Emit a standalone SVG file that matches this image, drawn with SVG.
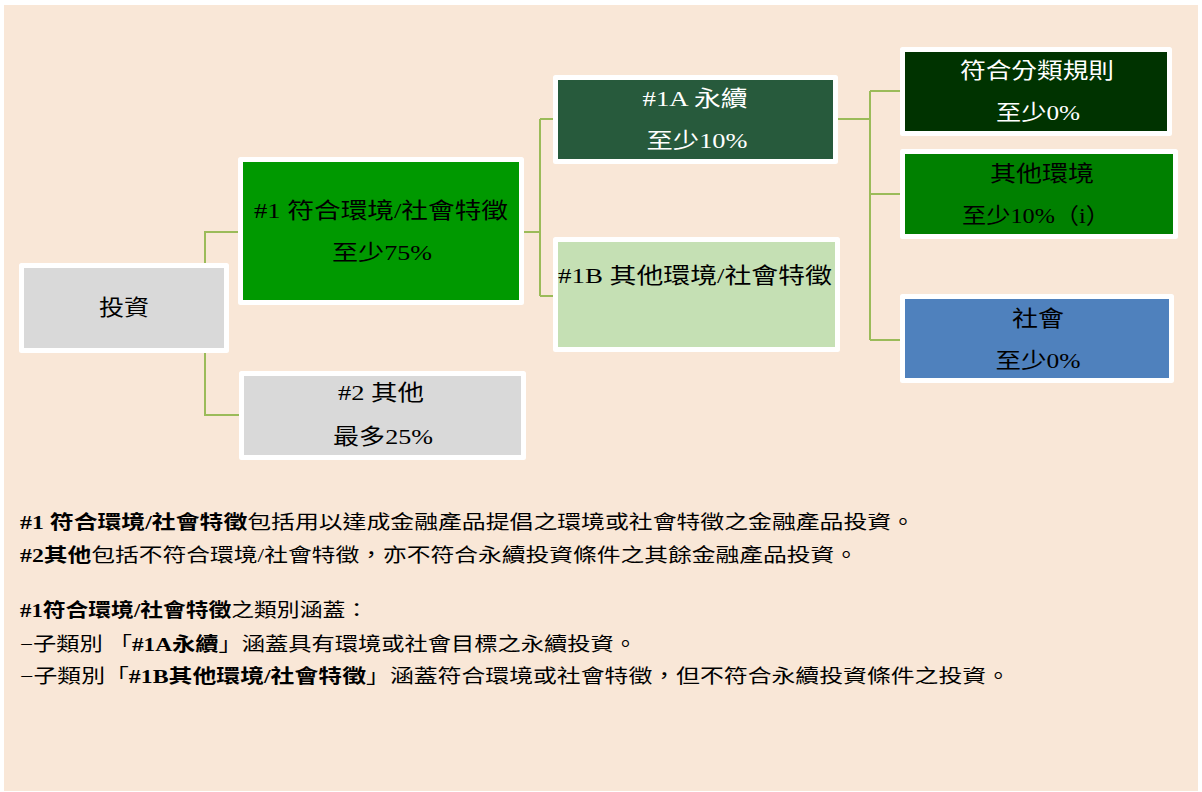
<svg xmlns="http://www.w3.org/2000/svg" width="1202" height="792" viewBox="0 0 1202 792">
<style>
.box{stroke:#FFFFFF;stroke-width:5;stroke-linejoin:round}
.t{font-family:"Liberation Serif","Noto Sans CJK TC",serif;font-size:22px;text-anchor:middle;fill:#000}
.w{fill:#FFFFFF}
.c{fill:none;stroke:#9BBB59;stroke-width:2}
.n{font-family:"Liberation Serif","Noto Sans CJK TC",serif;font-size:19px;fill:#000}
.b{font-weight:bold}
</style>
<rect x="4" y="5" width="1194" height="786" fill="#F9E7D7"/>
<g id="connectors">
<path class="c" d="M205,263 V232 H238"/>
<path class="c" d="M205,353 V415 H239"/>
<path class="c" d="M524,232 H540 M540,119 V296 M540,119 H553 M540,296 H553"/>
<path class="c" d="M838,119 H870 M870,91 V340 M870,91 H900 M870,194 H900 M870,340 H900"/>
</g>
<g id="node-invest">
<rect class="box" x="21.5" y="265.5" width="205" height="85" fill="#D9D9D9"/>
<text class="t" x="124" y="315" textLength="50" lengthAdjust="spacingAndGlyphs">投資</text>
</g>
<g id="node-1">
<rect class="box" x="240.5" y="159.5" width="281" height="143" fill="#009900"/>
<text class="t" x="381" y="218" textLength="254" lengthAdjust="spacingAndGlyphs">#1 符合環境/社會特徵</text>
<text class="t" x="382" y="260" textLength="100" lengthAdjust="spacingAndGlyphs">至少75%</text>
</g>
<g id="node-2">
<rect class="box" x="241.5" y="373.5" width="282" height="84" fill="#D9D9D9"/>
<text class="t" x="381" y="400" textLength="86" lengthAdjust="spacingAndGlyphs">#2 其他</text>
<text class="t" x="383" y="444" textLength="100" lengthAdjust="spacingAndGlyphs">最多25%</text>
</g>
<g id="node-1a">
<rect class="box" x="555.5" y="77.5" width="280" height="84" fill="#275A3C"/>
<text class="t w" x="695" y="106" textLength="105" lengthAdjust="spacingAndGlyphs">#1A 永續</text>
<text class="t w" x="697" y="148" textLength="101" lengthAdjust="spacingAndGlyphs">至少10%</text>
</g>
<g id="node-1b">
<rect class="box" x="555.5" y="239.5" width="282" height="110" fill="#C5E0B4"/>
<text class="t" x="695" y="283" textLength="274" lengthAdjust="spacingAndGlyphs">#1B 其他環境/社會特徵</text>
</g>
<g id="node-taxonomy">
<rect class="box" x="902.5" y="49.5" width="267" height="84" fill="#003300"/>
<text class="t w" x="1037" y="78" textLength="154" lengthAdjust="spacingAndGlyphs">符合分類規則</text>
<text class="t w" x="1038" y="120" textLength="84" lengthAdjust="spacingAndGlyphs">至少0%</text>
</g>
<g id="node-other-env">
<rect class="box" x="902.5" y="151.5" width="273" height="85" fill="#008000"/>
<text class="t" x="1042" y="181" textLength="104" lengthAdjust="spacingAndGlyphs">其他環境</text>
<text class="t" x="1036" y="223" textLength="148" lengthAdjust="spacingAndGlyphs">至少10%（i）</text>
</g>
<g id="node-social">
<rect class="box" x="902.5" y="296.5" width="269" height="84" fill="#4F81BD"/>
<text class="t" x="1038" y="326" textLength="52" lengthAdjust="spacingAndGlyphs">社會</text>
<text class="t" x="1038" y="368" textLength="85" lengthAdjust="spacingAndGlyphs">至少0%</text>
</g>
<g id="notes">
<text class="n" x="20" y="529" textLength="895" lengthAdjust="spacingAndGlyphs"><tspan class="b">#1 符合環境/社會特徵</tspan>包括用以達成金融產品提倡之環境或社會特徵之金融產品投資。</text>
<text class="n" x="20" y="562" textLength="838" lengthAdjust="spacingAndGlyphs"><tspan class="b">#2其他</tspan>包括不符合環境/社會特徵，亦不符合永續投資條件之其餘金融產品投資。</text>
<text class="n" x="20" y="617" textLength="348" lengthAdjust="spacingAndGlyphs"><tspan class="b">#1符合環境/社會特徵</tspan>之類別涵蓋：</text>
<text class="n" x="20" y="651" textLength="617" lengthAdjust="spacingAndGlyphs">−子類別 「<tspan class="b">#1A永續</tspan>」涵蓋具有環境或社會目標之永續投資。</text>
<text class="n" x="20" y="683" textLength="990" lengthAdjust="spacingAndGlyphs">−子類別「<tspan class="b">#1B其他環境/社會特徵</tspan>」涵蓋符合環境或社會特徵，但不符合永續投資條件之投資。</text>
</g>
</svg>
